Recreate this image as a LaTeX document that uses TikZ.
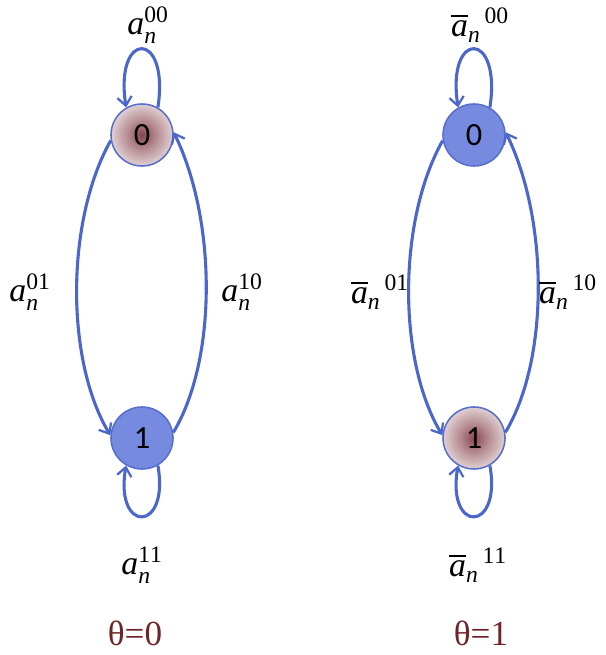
\documentclass[tikz,border=0pt]{standalone}
\usepackage{amsmath}
\usepackage{fontspec}
\setmainfont{Liberation Serif}
\newfontfamily\digitfont{Carlito}
\usetikzlibrary{arrows.meta}

\definecolor{edgeblue}{RGB}{76,103,204}
\definecolor{nodefill}{RGB}{118,138,224}
\definecolor{nodeborder}{RGB}{88,110,205}
\definecolor{rosecore}{RGB}{122,48,58}
\definecolor{roserim}{RGB}{252,246,247}
\definecolor{thetared}{RGB}{112,36,40}

\pgfdeclareradialshading{rosy}{\pgfpoint{0bp}{0bp}}{%
  color(0bp)=(rosecore!90!white); color(10bp)=(rosecore!60!white);
  color(24bp)=(rosecore!25!white); color(38bp)=(roserim); color(50bp)=(roserim)}

\newcommand{\plainlbl}[1]{$\textit{a}_{\textit{n}}^{\mathrm{#1}}$}
\newcommand{\barlbl}[1]{${\overline{\textit{a}}_{\textit{n}}}^{\,\mathrm{#1}}$}

\begin{document}
\begin{tikzpicture}[x=0.025cm, y=-0.025cm,
  state/.style={circle, draw=nodeborder, line width=1.1pt, minimum size=1.55cm,
    inner sep=0pt, font=\digitfont\fontsize{23}{25}\selectfont},
  bluestate/.style={state, fill=nodefill},
  rosestate/.style={state, shading=rosy},
  trans/.style={draw=edgeblue, line width=2.2pt, -{Straight Barb[length=2.2mm, width=3.6mm, line width=1.6pt]}},
  prob/.style={font=\fontsize{24}{26}\selectfont},
  theta/.style={font=\fontsize{25}{28}\selectfont, text=thetared}]
\useasboundingbox (0,0) rectangle (605,655);
% theta = 0
\node[rosestate] (zeroL) at (142,135) {0};
\node[bluestate] (oneL) at (142,438) {1};
\draw[trans] (zeroL.60) .. controls +(12,-78) and +(-12,-78) .. (zeroL.120);
\draw[trans] (oneL.-60) .. controls +(12,68) and +(-12,68) .. (oneL.-120);
\draw[trans] (zeroL.190) .. controls +(-45,80) and +(-45,-75) .. (oneL.175);
\draw[trans] (oneL.10) .. controls +(44,-73) and +(43,88) .. (zeroL.5);
\node[prob] (pzzL) at (148,25) {\plainlbl{00}};
\node[prob] (pzoL) at (30,292) {\plainlbl{01}};
\node[prob] (pozL) at (242,292) {\plainlbl{10}};
\node[prob] (pooL) at (142,565) {\plainlbl{11}};
\node[theta] (thL) at (135,633) {θ=0};
% theta = 1
\node[bluestate] (zeroR) at (474,135) {0};
\node[rosestate] (oneR) at (474,438) {1};
\draw[trans] (zeroR.60) .. controls +(12,-78) and +(-12,-78) .. (zeroR.120);
\draw[trans] (oneR.-60) .. controls +(12,68) and +(-12,68) .. (oneR.-120);
\draw[trans] (zeroR.190) .. controls +(-45,80) and +(-45,-75) .. (oneR.175);
\draw[trans] (oneR.10) .. controls +(44,-73) and +(43,88) .. (zeroR.5);
\node[prob] (pzzR) at (480,25) {\barlbl{00}};
\node[prob] (pzoR) at (380,292) {\barlbl{01}};
\node[prob] (pozR) at (568,292) {\barlbl{10}};
\node[prob] (pooR) at (478,565) {\barlbl{11}};
\node[theta] (thR) at (481,633) {θ=1};
\end{tikzpicture}
\end{document}
